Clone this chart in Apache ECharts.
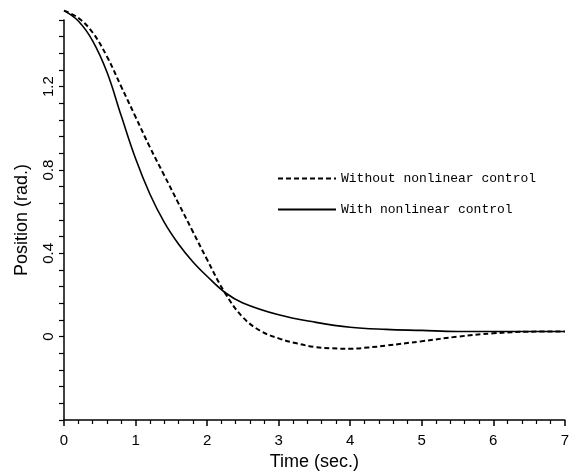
<!DOCTYPE html>
<html><head><meta charset="utf-8">
<script src="https://cdn.jsdelivr.net/npm/echarts@6/dist/echarts.min.js"></script>
<style>html,body{margin:0;padding:0;background:#fff}#c{width:572px;height:476px}</style>
</head><body><div id="c"></div>
<script>
// time (sec.) and position (rad.)
const timeWithout = [0,0.2,0.4,0.6,0.8,1.0,1.2,1.4,1.6,1.8,2.0,2.25,2.5,2.75,3.0,3.25,3.5,3.75,4.0,4.25,4.5,5.0,5.5,6.0,6.5,7.0];
const posWithout  = [1.565,1.53,1.46,1.345,1.2,1.055,0.91,0.775,0.64,0.505,0.37,0.21,0.093,0.027,-0.008,-0.032,-0.049,-0.056,-0.058,-0.052,-0.043,-0.022,0.0,0.016,0.024,0.025];
const timeWith = [0,0.2,0.4,0.6,0.8,1.0,1.2,1.4,1.6,1.8,2.0,2.25,2.5,3.0,3.5,4.0,4.5,5.0,5.5,6.0,7.0];
const posWith  = [1.565,1.515,1.42,1.27,1.06,0.855,0.685,0.55,0.445,0.36,0.29,0.212,0.162,0.105,0.07,0.045,0.035,0.03,0.025,0.025,0.025];
const seriesNames = ['Without nonlinear control','With nonlinear control'];
const yLabelValues = [0,0.4,0.8,1.2];

const chart = echarts.init(document.getElementById('c'));
const zip = (a,b)=>a.map((v,i)=>[v,b[i]]);
chart.setOption({
  animation:false,
  backgroundColor:'#fff',
  grid:{left:64,right:5,top:20,bottom:55},
  legend:{
    orient:'vertical', left:272, top:167,
    itemWidth:58, itemHeight:14, itemGap:18,
    data:seriesNames.map(n=>({name:n, itemStyle:{opacity:0}})),
    textStyle:{fontFamily:'Liberation Mono', fontSize:13, color:'#000'}
  },
  xAxis:{
    type:'value', min:0, max:7, interval:1,
    name:'Time (sec.)', nameLocation:'middle', nameGap:33,
    nameTextStyle:{fontFamily:'Liberation Sans', fontSize:18, color:'#000'},
    axisLine:{onZero:false, lineStyle:{color:'#000', width:1.5}},
    axisTick:{show:true, length:6, lineStyle:{color:'#000', width:1.5}},
    minorTick:{show:true, splitNumber:5, length:4, lineStyle:{color:'#000', width:1.2}},
    splitLine:{show:false},
    axisLabel:{fontFamily:'Liberation Sans', fontSize:15, color:'#000', margin:13}
  },
  yAxis:{
    type:'value', min:-0.4, max:1.52, interval:0.08,
    name:'Position (rad.)', nameLocation:'middle', nameGap:33,
    nameTextStyle:{fontFamily:'Liberation Sans', fontSize:18, color:'#000'},
    axisLine:{show:true, onZero:false, lineStyle:{color:'#000', width:1.5}},
    axisTick:{show:true, length:5, lineStyle:{color:'#000', width:1.2}},
    splitLine:{show:false},
    axisLabel:{
      rotate:90, fontFamily:'Liberation Sans', fontSize:15, color:'#000', margin:8,
      formatter:function(v){
        for (const t of yLabelValues){ if (Math.abs(v-t)<1e-6) return String(t); }
        return '';
      }
    }
  },
  series:[
    {name:seriesNames[0], type:'line', smooth:0.4, symbol:'none', clip:false,
     data:zip(timeWithout,posWithout), itemStyle:{color:'#000'},
     lineStyle:{color:'#000', width:2, type:[5,3]}},
    {name:seriesNames[1], type:'line', smooth:0.4, symbol:'none', clip:false,
     data:zip(timeWith,posWith), itemStyle:{color:'#000'},
     lineStyle:{color:'#000', width:1.6}}
  ]
});
</script></body></html>
